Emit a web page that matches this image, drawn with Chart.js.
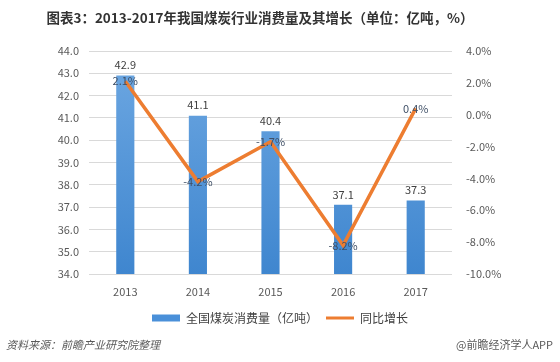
<!DOCTYPE html>
<html>
<head>
<meta charset="utf-8">
<script src="https://cdn.jsdelivr.net/npm/chart.js@4.4.1/dist/chart.umd.min.js"></script>
<style>
  html,body{margin:0;padding:0;background:#fff;}
  #wrap{width:560px;height:362px;position:relative;}
</style>
</head>
<body>
<div id="wrap"><canvas id="c" width="560" height="362"></canvas></div>
<script>
const years = ['2013','2014','2015','2016','2017'];
const consumption = [42.9, 41.1, 40.4, 37.1, 37.3];
const growth = [2.1, -4.2, -1.7, -8.2, 0.4];
const leftTicks = {min: 34, max: 44, step: 1};
const rightTicks = {min: -10, max: 4, step: 2};
const titleText = '图表3：2013-2017年我国煤炭行业消费量及其增长（单位：亿吨，%）';
const sourceText = '资料来源：前瞻产业研究院整理';
const creditText = '@前瞻经济学人APP';
const seriesNames = ['全国煤炭消费量（亿吨）', '同比增长'];

const FONT = '"Noto Sans CJK SC", "Open Sans", sans-serif';

const extras = {
  id: 'extras',
  afterDatasetsDraw(chart) {
    const ctx = chart.ctx;
    ctx.save();
    ctx.font = '11px ' + FONT;
    ctx.textAlign = 'center';
    const barMeta = chart.getDatasetMeta(0);
    ctx.fillStyle = '#404040';
    ctx.textBaseline = 'bottom';
    barMeta.data.forEach((el, i) => {
      ctx.fillText(consumption[i].toFixed(1), el.x, el.y - 5);
    });
    const lineMeta = chart.getDatasetMeta(1);
    ctx.fillStyle = '#3f4f66';
    ctx.textBaseline = 'middle';
    lineMeta.data.forEach((el, i) => {
      ctx.fillText(growth[i].toFixed(1) + '%', el.x, el.y);
    });
    ctx.restore();
  },
  afterDraw(chart) {
    const ctx = chart.ctx;
    ctx.save();
    ctx.fillStyle = '#333333';
    ctx.font = 'bold 13.5px ' + FONT;
    ctx.textAlign = 'center';
    ctx.textBaseline = 'middle';
    ctx.fillText(titleText, 260, 18);
    ctx.fillStyle = '#595959';
    ctx.font = 'italic 11px ' + FONT;
    ctx.textAlign = 'left';
    ctx.fillText(sourceText, 6, 345);
    ctx.font = '11px ' + FONT;
    ctx.textAlign = 'right';
    ctx.fillText(creditText, 553, 345);
    ctx.restore();
  }
};

const ctx = document.getElementById('c').getContext('2d');
const grad = ctx.createLinearGradient(0, 51, 0, 274);
grad.addColorStop(0, '#6ea8e2');
grad.addColorStop(1, '#3f86cf');

new Chart(ctx, {
  data: {
    labels: years,
    datasets: [
      {
        type: 'bar',
        label: seriesNames[0],
        data: consumption,
        backgroundColor: grad,
        borderWidth: 0,
        yAxisID: 'y',
        order: 1,
        barPercentage: 0.5,
        categoryPercentage: 0.5
      },
      {
        type: 'line',
        label: seriesNames[1],
        data: growth,
        borderColor: '#ed7d31',
        backgroundColor: '#ed7d31',
        borderWidth: 3.5,
        pointRadius: 0,
        tension: 0,
        yAxisID: 'y1',
        order: 0
      }
    ]
  },
  options: {
    responsive: false,
    animation: false,
    devicePixelRatio: 1,
    layout: {padding: {top: 51, bottom: 28, left: 0, right: 0}},
    plugins: {
      tooltip: {enabled: false},
      title: {display: false},
      legend: {
        position: 'bottom',
        labels: {
          font: {size: 12, family: FONT},
          color: '#404040',
          usePointStyle: true,
          pointStyleWidth: 28,
          boxHeight: 7,
          padding: 8,
          generateLabels(chart) {
            return [
              {text: seriesNames[0], fillStyle: '#4a90d9', strokeStyle: '#4a90d9', lineWidth: 0, pointStyle: 'rect', datasetIndex: 0, fontColor: '#404040'},
              {text: seriesNames[1], fillStyle: '#ed7d31', strokeStyle: '#ed7d31', lineWidth: 3, pointStyle: 'line', datasetIndex: 1, fontColor: '#404040'}
            ];
          }
        }
      }
    },
    scales: {
      x: {
        grid: {display: false},
        border: {display: false},
        ticks: {font: {size: 11, family: FONT}, color: '#595959', padding: 3},
        afterFit(s) { s.height = 30; }
      },
      y: {
        position: 'left',
        min: leftTicks.min, max: leftTicks.max,
        ticks: {stepSize: leftTicks.step, font: {size: 11, family: FONT}, color: '#595959', padding: 10,
          callback: v => Number(v).toFixed(1)},
        grid: {color: '#d9d9d9', drawTicks: false},
        border: {display: false},
        afterFit(s) { s.width = 89; }
      },
      y1: {
        position: 'right',
        min: rightTicks.min, max: rightTicks.max,
        ticks: {stepSize: rightTicks.step, font: {size: 11, family: FONT}, color: '#595959', padding: 14,
          callback: v => Number(v).toFixed(1) + '%'},
        grid: {drawOnChartArea: false, drawTicks: false},
        border: {display: false},
        afterFit(s) { s.width = 108; }
      }
    }
  },
  plugins: [extras]
});
</script>
</body>
</html>
